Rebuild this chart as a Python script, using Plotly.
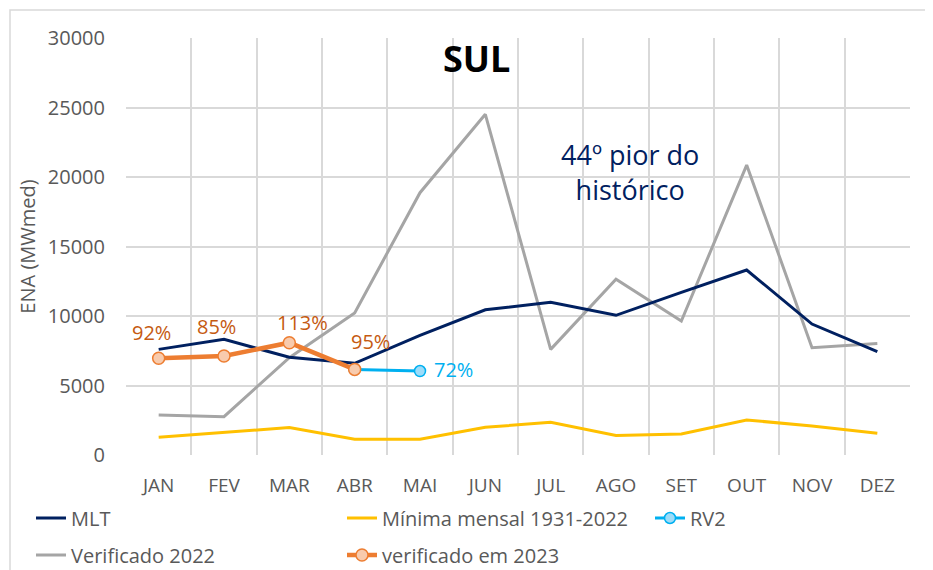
import plotly.graph_objects as go

months = ["JAN", "FEV", "MAR", "ABR", "MAI", "JUN", "JUL", "AGO", "SET", "OUT", "NOV", "DEZ"]
mlt = [7600, 8320, 7030, 6600, 8600, 10450, 10990, 10050, 11700, 13310, 9420, 7430]
minima = [1270, 1630, 1970, 1130, 1130, 1990, 2350, 1410, 1510, 2520, 2090, 1560]
verif_2022 = [2880, 2760, 7000, 10220, 18870, 24510, 7600, 12640, 9640, 20860, 7720, 8030]
verif_2023 = [6960, 7120, 8080, 6160]
rv2 = [None, None, None, 6160, 6040]
pct_2023 = ["92%", "85%", "113%", "95%"]
pct_rv2 = "72%"

x = list(range(12))
FONT = "Open Sans"
GRAY_TXT = "#595959"

# page body offsets the figure by 8px; work in screen pixels and compensate
OFF = 8
L, R, T, B = 126 - OFF, 910 - OFF, 38 - OFF, 455 - OFF
W, H = R - L, B - T


def px_x(p):
    return (p - OFF - L) / W


def px_y(p):
    return (B - (p - OFF)) / H


fig = go.Figure()
fig.add_trace(go.Scatter(x=x, y=verif_2022, mode="lines", name="Verificado 2022",
                         line=dict(color="#A5A5A5", width=3), legend="legend4"))
fig.add_trace(go.Scatter(x=x, y=minima, mode="lines", name="Mínima mensal 1931-2022",
                         line=dict(color="#FFC000", width=3), legend="legend2"))
fig.add_trace(go.Scatter(x=x, y=mlt, mode="lines", name="MLT",
                         line=dict(color="#002060", width=3), legend="legend"))
fig.add_trace(go.Scatter(x=x[:5], y=rv2, mode="lines+markers", name="RV2",
                         line=dict(color="#00B0F0", width=3),
                         marker=dict(size=11, color="#9DDCF9", line=dict(color="#00B0F0", width=1.5)),
                         legend="legend3"))
fig.add_trace(go.Scatter(x=x[:4], y=verif_2023, mode="lines+markers", name="verificado em 2023",
                         line=dict(color="#ED7D31", width=4.5),
                         marker=dict(size=12, color="#F8CBAD", line=dict(color="#ED7D31", width=1.5)),
                         legend="legend5"))

shifts = [(-7, 26), (-8, 30), (13, 20), (16, 28)]
for i, (t, v) in enumerate(zip(pct_2023, verif_2023)):
    fig.add_annotation(x=x[i], y=v, text=t, showarrow=False, xshift=shifts[i][0], yshift=shifts[i][1],
                       xanchor="center", yanchor="middle",
                       font=dict(family=FONT, size=20, color="#C55A11"))
fig.add_annotation(x=x[4], y=rv2[4], text=pct_rv2, showarrow=False, xshift=33, yshift=2,
                   xanchor="center", yanchor="middle",
                   font=dict(family=FONT, size=20, color="#00B0F0"))

fig.add_annotation(xref="paper", yref="paper", x=px_x(476), y=px_y(58), text="<b>SUL</b>", showarrow=False,
                   xanchor="center", yanchor="middle",
                   font=dict(family=FONT, size=36, color="black"))
fig.add_annotation(xref="paper", yref="paper", x=px_x(630), y=px_y(172), text="44º pior do<br>histórico",
                   showarrow=False, xanchor="center", yanchor="middle",
                   font=dict(family=FONT, size=27, color="#002060"))

# outer chart border
fig.add_shape(type="rect", xref="paper", yref="paper", x0=px_x(10), x1=px_x(1000), y0=px_y(700), y1=px_y(10),
              line=dict(color="#D9D9D9", width=1.5), fillcolor="rgba(0,0,0,0)", layer="below")

leg_font = dict(family=FONT, size=20, color=GRAY_TXT)


def leg(text_px, row_px):
    return dict(orientation="h", x=px_x(text_px - 42), xanchor="left", y=px_y(row_px), yanchor="middle",
                font=leg_font, bgcolor="rgba(0,0,0,0)", borderwidth=0)


fig.update_layout(
    width=933, height=570,
    margin=dict(l=L, r=933 - R, t=T, b=570 - B, autoexpand=False),
    paper_bgcolor="white", plot_bgcolor="white",
    font=dict(family=FONT, color=GRAY_TXT),
    showlegend=True,
    legend=leg(73, 518),
    legend2=leg(384, 518),
    legend3=leg(692, 518),
    legend4=leg(73, 555),
    legend5=leg(384, 555),
    xaxis=dict(range=[-0.5, 11.5], tickmode="array", tickvals=x, ticktext=months,
               showgrid=False, zeroline=False, showline=False,
               ticks="", ticklabelstandoff=17,
               tickfont=dict(family=FONT, size=19, color=GRAY_TXT),
               minor=dict(tickmode="array", tickvals=[i - 0.5 for i in range(13)], showgrid=True,
                          gridcolor="#D9D9D9", gridwidth=2)),
    yaxis=dict(range=[0, 30000], tickmode="array", tickvals=[0, 5000, 10000, 15000, 20000, 25000, 30000],
               ticktext=["0", "5000", "10000", "15000", "20000", "25000", "30000"],
               showgrid=True, gridcolor="#D9D9D9", gridwidth=2, zeroline=False,
               ticklabelstandoff=20,
               tickfont=dict(family=FONT, size=20, color=GRAY_TXT),
               title=dict(text="ENA (MWmed)", font=dict(family=FONT, size=20, color=GRAY_TXT), standoff=6)),
)

fig.write_html("out.html")
